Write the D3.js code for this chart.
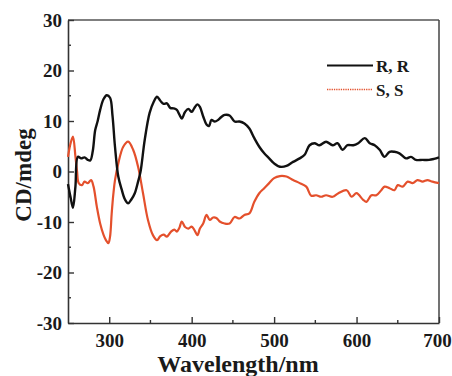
<!DOCTYPE html>
<html>
<head>
<meta charset="utf-8">
<script src="https://cdn.jsdelivr.net/npm/d3@7/dist/d3.min.js"></script>
<style>
  html, body { margin: 0; padding: 0; background: #fff; }
</style>
</head>
<body>
<svg id="chart"></svg>
<script>
// R,R series
const wavelengthRR = [250, 253, 256, 259, 262, 266, 270, 274, 277, 280, 283, 286, 289, 293, 297, 301, 304, 307, 311, 315, 319, 323, 327, 331, 335, 338, 343, 349, 354, 358, 362, 366, 370, 374, 378, 382, 385, 388, 392, 396, 400, 403, 407, 410, 414, 418, 421, 424, 428, 432, 436, 440, 446, 452, 458, 464, 470, 476, 482, 488, 494, 500, 507, 515, 523, 531, 537, 543, 549, 555, 563, 571, 577, 583, 589, 596, 602, 610, 616, 622, 628, 634, 640, 646, 652, 660, 666, 672, 680, 688, 694, 700];
const cdRR = [-2.5, -5, -7.2, -3, 2.9, 2.6, 2.8, 2.3, 2.2, 4, 8.2, 10, 12.2, 14.3, 15.1, 14.6, 11, 4.9, -1, -3.5, -5.5, -6.3, -5.5, -4.3, -2, 0, 6.2, 11.6, 13.8, 14.8, 14, 13.4, 13.5, 12.6, 12.5, 12.2, 11.3, 10.5, 11.8, 12.4, 11.8, 12.5, 13.3, 12.8, 10.9, 9.3, 9, 10.2, 9.9, 10.2, 10.8, 11.2, 11.1, 9.9, 9.9, 9.5, 8.5, 6.6, 4.9, 3.6, 2.6, 1.6, 0.95, 1.1, 1.9, 2.6, 3.3, 5.2, 5.6, 5.2, 5.9, 5.2, 5.6, 4.3, 5.2, 5.2, 5.6, 6.6, 5.6, 5.2, 4.3, 2.9, 3.9, 3.9, 3.6, 2.6, 2.9, 2.3, 2.3, 2.3, 2.5, 2.8];

// S,S series
const wavelengthSS = [250, 253, 256, 259, 261, 263, 267, 270, 274, 278, 281, 285, 289, 293, 296, 299, 301, 303, 305, 307, 311, 317, 323, 329, 335, 341, 347, 353, 358, 362, 366, 370, 375, 379, 382, 385, 388, 392, 396, 400, 403, 407, 410, 414, 418, 422, 426, 430, 434, 440, 446, 452, 458, 464, 470, 476, 482, 488, 494, 500, 507, 515, 523, 531, 539, 545, 551, 557, 563, 571, 578, 588, 594, 600, 608, 612, 618, 624, 630, 634, 640, 646, 650, 656, 662, 668, 674, 680, 686, 692, 700];
const cdSS = [2.9, 5.5, 6.9, 3, 0, -2.3, -2.7, -2, -2.3, -1.7, -3, -7, -10.3, -12.5, -13.6, -14.2, -12.9, -8.3, -4.5, -1.7, 1.6, 4.9, 5.9, 4.3, 0.95, -4.3, -9.6, -12.6, -13.6, -12.8, -12.5, -12.9, -11.9, -11.5, -11.9, -11.2, -9.9, -11, -11.3, -10.9, -11.5, -12.6, -11.3, -10.3, -8.6, -9.6, -9.1, -9.2, -9.9, -10.3, -10.3, -9, -9.3, -8.6, -8.3, -6, -4.3, -3.3, -2.3, -1.3, -0.9, -1, -1.7, -2.3, -3, -4.8, -4.7, -5, -4.7, -5, -4.3, -3.7, -5, -4.3, -5.6, -6, -4.7, -4.7, -3.7, -3, -3.3, -3.7, -2.7, -3, -2, -2.3, -1.7, -2, -1.7, -2, -2.3];

const xTicks = [300, 400, 500, 600, 700];
const xMinorTicks = [350, 450, 550, 650];
const yTicks = [-30, -20, -10, 0, 10, 20, 30];
const yMinorTicks = [-25, -15, -5, 5, 15, 25];
const legendLabels = ['R, R', 'S, S'];

const FONT = '"Liberation Serif", serif';

const width = 452, height = 376;
const margin = { top: 20, right: 13, bottom: 53, left: 68 };
const innerW = width - margin.left - margin.right;
const innerH = height - margin.top - margin.bottom;

const svg = d3.select('#chart').attr('width', width).attr('height', height);
const g = svg.append('g').attr('transform', `translate(${margin.left},${margin.top})`);

const x = d3.scaleLinear().domain([250, 700]).range([0, innerW]);
const y = d3.scaleLinear().domain([-30, 30]).range([innerH, 0]);

// frame (top + right lighter)
g.append('line').attr('x1', 0).attr('x2', innerW).attr('y1', 0).attr('y2', 0)
  .attr('stroke', '#555').attr('stroke-width', 1.3);
g.append('line').attr('x1', innerW).attr('x2', innerW).attr('y1', 0).attr('y2', innerH)
  .attr('stroke', '#444').attr('stroke-width', 1.5);

// x axis, ticks pointing inward
const xAxis = g.append('g').attr('transform', `translate(0,${innerH})`)
  .call(d3.axisBottom(x).tickValues(xTicks).tickFormat(d => String(d))
    .tickSizeInner(-6).tickSizeOuter(0).tickPadding(11));
xAxis.append('g').selectAll('line').data(xMinorTicks).join('line')
  .attr('x1', d => x(d)).attr('x2', d => x(d)).attr('y1', 0).attr('y2', -3);
// last label sits on the image edge, nudge it in a touch
xAxis.selectAll('.tick text').filter(d => d === 700).attr('dx', -2);

// y axis, ticks pointing inward
const yAxis = g.append('g')
  .call(d3.axisLeft(y).tickValues(yTicks).tickFormat(d => String(d))
    .tickSizeInner(-6).tickSizeOuter(0).tickPadding(6));
yAxis.append('g').selectAll('line').data(yMinorTicks).join('line')
  .attr('x1', 0).attr('x2', 3).attr('y1', d => y(d)).attr('y2', d => y(d));

[xAxis, yAxis].forEach(ax => {
  ax.attr('font-family', FONT).attr('font-size', 19).attr('font-weight', 'bold');
  ax.select('.domain').attr('stroke', '#333').attr('stroke-width', 1.6);
  ax.selectAll('line').attr('stroke', '#333').attr('stroke-width', 1.4);
  ax.selectAll('text').attr('fill', '#1a1a1a');
});

// curves
const line = d3.line().curve(d3.curveCatmullRom.alpha(0.5));

g.append('path')
  .datum(wavelengthSS.map((w, i) => [x(w), y(cdSS[i])]))
  .attr('d', line)
  .attr('fill', 'none')
  .attr('stroke', '#e4502c')
  .attr('stroke-width', 2.2);

g.append('path')
  .datum(wavelengthRR.map((w, i) => [x(w), y(cdRR[i])]))
  .attr('d', line)
  .attr('fill', 'none')
  .attr('stroke', '#111')
  .attr('stroke-width', 2.4);

// legend
const legend = svg.append('g').attr('transform', 'translate(327,65.5)')
  .attr('font-family', FONT).attr('font-weight', 'bold');
legend.append('line').attr('x1', 0).attr('x2', 46).attr('y1', 0).attr('y2', 0)
  .attr('stroke', '#111').attr('stroke-width', 2.2);
legend.append('line').attr('x1', 0).attr('x2', 46).attr('y1', 24).attr('y2', 24)
  .attr('stroke', '#e4502c').attr('stroke-width', 1.6).attr('stroke-dasharray', '1.3,1');
legend.selectAll('text.lab').data(legendLabels).join('text')
  .attr('class', 'lab')
  .attr('x', 49)
  .attr('y', (d, i) => i * 24 + 6.5)
  .attr('font-size', 17)
  .attr('fill', '#1a1a1a')
  .text(d => d);

// axis titles
svg.append('text')
  .attr('x', 238)
  .attr('y', 372)
  .attr('text-anchor', 'middle')
  .attr('font-family', FONT).attr('font-weight', 'bold')
  .attr('font-size', 24)
  .attr('fill', '#1a1a1a')
  .text('Wavelength/nm');

svg.append('text')
  .attr('transform', 'translate(31,175) rotate(-90)')
  .attr('text-anchor', 'middle')
  .attr('font-family', FONT).attr('font-weight', 'bold')
  .attr('font-size', 23)
  .attr('fill', '#1a1a1a')
  .text('CD/mdeg');
</script>
</body>
</html>
